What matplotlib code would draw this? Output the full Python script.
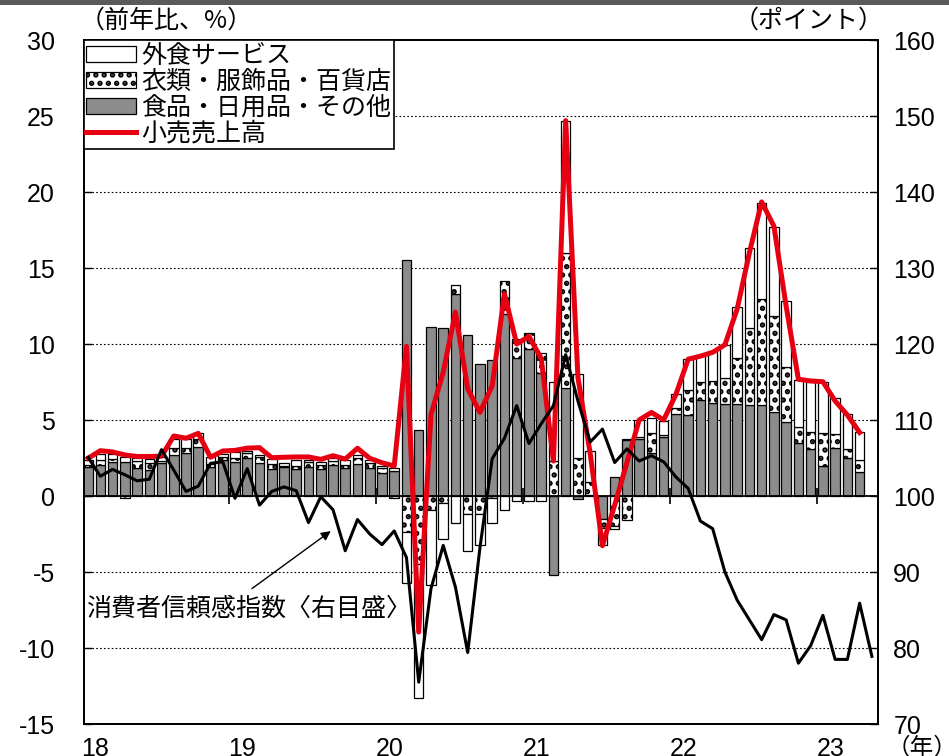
import numpy as np
import matplotlib
matplotlib.use("Agg")
import matplotlib.pyplot as plt
from matplotlib.patches import Rectangle

plt.rcParams['font.family'] = ['Liberation Sans', 'Noto Sans CJK JP', 'DejaVu Sans']
plt.rcParams['axes.unicode_minus'] = False
plt.rcParams['hatch.linewidth'] = 2.6

JP = ['Noto Sans CJK JP', 'DejaVu Sans']

# --- data: Jan 2018 - Apr 2023 (monthly), % y/y contributions ---
food_daily = [1.89, 2.04, 2.26, 2.26, 1.82, 1.71, 2.19, 2.70, 2.81, 3.25, 1.93, 2.37,
              2.26, 2.48, 2.15, 1.75, 1.89, 1.75, 1.89, 1.75, 2.04, 1.82, 2.10, 1.82,
              1.54, 1.67, 15.5, 4.35, 11.15, 11.05, 13.3, 10.6, 8.7, 8.95, 12.0, 9.05,
              9.7, 8.1, -5.2, 7.1, -0.2, 0.05, -1.5, 1.27, 3.7, 3.75, 2.85, 3.9,
              5.37, 5.33, 6.3, 6.1, 6.05, 6.05, 6.0, 6.0, 5.5, 4.85, 3.46, 3.07,
              1.97, 3.14, 2.48, 1.6]
apparel_dept = [0.15, 0.36, 0.15, -0.15, 0.5, 0.48, 0.1, 0.43, 0.32, 0.48, 0.2, 0.17,
                0.22, 0.37, 0.39, 0.35, 0.1, 0.22, 0.37, 0.29, 0.28, 0.22, 0.38, 0.33,
                0.28, -0.15, -2.4, -4.5, -0.9, -0.45, 0.6, -1.2, -1.2, -0.15, 2.15, 1.25,
                1.05, 1.3, 2.3, 8.9, 2.5, 0.85, -0.6, -2.0, -1.55, 0.15, 1.3, 0.1,
                0.4, 1.64, 1.2, 1.45, 1.7, 3.0, 5.07, 6.94, 6.34, 3.65, 1.1, 1.16,
                2.15, 0.94, 0.59, 0.77]
food_service = [0.3, 0.36, 0.35, 0.28, 0.16, 0.22, 0.25, 0.6, 0.6, 0.39, 0.41, 0.22,
                0.44, 0.13, 0.16, 0.31, 0.16, 0.4, 0.11, 0.22, 0.16, 0.33, 0.22, 0.22,
                0.15, 0.15, -3.3, -8.8, -4.95, -2.4, -1.75, -2.4, -2.05, -1.6, -0.9, -0.3,
                -0.35, -0.35, 5.2, 8.7, 5.5, 2.05, -1.1, -0.2, 0.05, 1.1, 0.95, 0.95,
                0.95, 2.03, 1.8, 2.0, 2.2, 3.4, 5.23, 6.36, 5.84, 4.35, 3.07, 3.29,
                3.4, 2.35, 2.3, 1.82]
retail_sales = [2.48, 2.98, 2.9, 2.7, 2.6, 2.6, 2.62, 3.95, 3.8, 4.12, 2.55, 2.96,
                3.0, 3.15, 3.18, 2.52, 2.55, 2.57, 2.57, 2.41, 2.65, 2.43, 3.14, 2.48,
                2.19, 1.97, 9.85, -8.95, 5.35, 8.15, 12.1, 7.05, 5.5, 7.25, 13.3, 10.0,
                10.5, 9.05, 2.3, 24.7, 7.8, 2.8, -3.27, -0.6, 2.2, 5.0, 5.5, 5.0,
                6.68, 9.0, 9.2, 9.45, 9.95, 12.3, 16.0, 19.35, 17.75, 12.5, 7.68, 7.57,
                7.52, 6.25, 5.33, 4.18]
# consumer confidence index (right axis), Jan 2018 - May 2023
confidence = [105.1, 102.6, 103.5, 102.8, 102.0, 102.2, 106.1, 103.4, 100.6, 101.3, 104.3, 104.5,
              99.7, 103.6, 98.8, 100.6, 101.2, 100.7, 96.5, 99.9, 98.2, 92.8, 96.9, 95.0,
              93.6, 95.4, 91.9, 75.5, 87.8, 93.5, 88.0, 79.4, 93.2, 104.9, 107.6, 111.9,
              106.9, 109.5, 111.9, 118.6, 112.5, 107.1, 108.8, 104.4, 106.2, 104.6, 105.3, 104.5,
              102.5, 101.0, 96.7, 95.7, 90.0, 86.3, 83.7, 81.1, 84.4, 83.7, 78.0, 80.3,
              84.3, 78.5, 78.5, 85.9, 78.9]
year_labels = ['18', '19', '20', '21', '22', '23']

labels = ['外食サービス', '衣類・服飾品・百貨店', '食品・日用品・その他', '小売売上高']

x = np.arange(len(food_daily))
xc = np.arange(len(confidence))

fig = plt.figure(figsize=(9.49, 7.56), dpi=100)
fig.patches.append(Rectangle((0, 1 - 5 / 756), 1, 5 / 756, transform=fig.transFigure,
                             facecolor='#5a5a5a', edgecolor='none'))
ax = fig.add_axes([84 / 949, 32 / 756, 794 / 949, 684 / 756])
ax2 = ax.twinx()

# stacked bars, positives up and negatives down
pos = np.zeros(len(x))
neg = np.zeros(len(x))
styles = [(food_daily, '#8c8c8c', None), (apparel_dept, 'white', '..'), (food_service, 'white', None)]
containers = []
for vals, col, hatch in styles:
    v = np.array(vals)
    bottom = np.where(v >= 0, pos, neg)
    c = ax.bar(x, v, bottom=bottom, width=0.78, color=col, edgecolor='black',
               linewidth=0.9, hatch=hatch, zorder=2)
    containers.append(c)
    pos = pos + np.where(v >= 0, v, 0)
    neg = neg + np.where(v < 0, v, 0)

ax.axhline(0, color='black', lw=1.3, zorder=2.5)
red, = ax.plot(x, retail_sales, color='#e60012', lw=3.6, zorder=3)
ax2.plot(xc, confidence, color='black', lw=2.2)

# year ticks on the zero line
years_idx = np.arange(12, len(xc), 12) - 0.5
ax.vlines(years_idx, -0.55, 0.55, color='black', lw=1.2, zorder=3)

ax.set_xlim(-0.33, 64.5)
ax.set_ylim(-15, 30)
ax2.set_ylim(70, 160)
ax.set_yticks(np.arange(-15, 31, 5))
ax.set_yticklabels([str(v) for v in range(-15, 31, 5)])
ax2.set_yticks(np.arange(70, 161, 10))
ax.set_xticks(np.arange(len(year_labels)) * 12 + 0.6)
ax.set_xticklabels(year_labels)

for v in range(-10, 30, 5):
    if v != 0:
        ax.axhline(v, color='black', lw=0.8, ls=(0, (1.5, 2)), zorder=1)

ax.tick_params(axis='y', direction='in', length=6, width=1, labelsize=18, pad=21)
ax2.tick_params(axis='y', direction='in', length=6, width=1, labelsize=18, pad=11)
ax.tick_params(axis='x', length=0, labelsize=18, pad=9)
for a in (ax, ax2):
    for s in a.spines.values():
        s.set_linewidth(1.3)

handles = [containers[2], containers[1], containers[0], red]
leg = ax2.legend(handles, labels, loc='upper left', bbox_to_anchor=(0, 1), borderaxespad=0,
                 frameon=True, fancybox=False, edgecolor='black', framealpha=1,
                 prop={'family': JP, 'size': 18}, handlelength=2.0, handleheight=0.6,
                 handletextpad=0.2, labelspacing=0.0, borderpad=0.1)
leg.get_frame().set_linewidth(1.2)

ax.annotate('', xy=(20.0, -2.2), xytext=(13.2, -6.2),
            arrowprops=dict(arrowstyle='-|>', color='black', lw=1.0, mutation_scale=14))
ax.text(-0.2, -7.4, '消費者信頼感指数〈右目盛〉', fontsize=18, family=JP, va='center', ha='left')

fig.text(80 / 949, 1 - 21 / 756, '（前年比、%）', fontsize=18, family=JP, va='center', ha='left')
fig.text(884 / 949, 1 - 21 / 756, '（ポイント）', fontsize=18, family=JP, va='center', ha='right')
fig.text(922 / 949, 1 - 737 / 756, '（年）', fontsize=17, family=JP, va='top', ha='center')

fig.savefig('out.png', dpi=100)
